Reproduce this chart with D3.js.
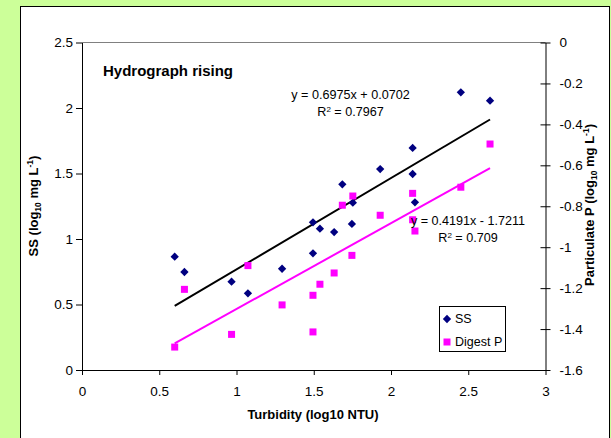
<!DOCTYPE html>
<html>
<head>
<meta charset="utf-8">
<script src="https://cdn.jsdelivr.net/npm/d3@7"></script>
<style>
  body { margin: 0; background: #ccff99; }
  svg { display: block; font-family: "Liberation Sans", Arial, sans-serif; }
</style>
</head>
<body>
<script>
// turbidity (log10 NTU), shared by both series
const turbidity = [0.600, 0.663, 0.968, 1.074, 1.295, 1.495, 1.540, 1.495, 1.632, 1.747, 1.753, 1.685, 1.930, 2.140, 2.140, 2.155, 2.452, 2.641];
// SS (log10 mg/L), left axis
const ssValues = [0.865, 0.748, 0.674, 0.585, 0.773, 1.127, 1.079, 0.891, 1.053, 1.115, 1.277, 1.417, 1.534, 1.695, 1.496, 1.280, 2.120, 2.056];
// Digest P (log10 mg/L), right axis
const digestP = [-1.488, -1.206, -1.426, -1.090, -1.282, -1.414, -1.181, -1.235, -1.126, -1.040, -0.750, -0.795, -0.844, -0.737, -0.866, -0.921, -0.707, -0.496];
// trend lines: slope, intercept
const ssFit = [0.6975, 0.0702];
const pFit = [0.4191, -1.7211];
const xTicks = [0, 0.5, 1, 1.5, 2, 2.5, 3];
const leftTicks = [0, 0.5, 1, 1.5, 2, 2.5];
const rightTicks = [0, -0.2, -0.4, -0.6, -0.8, -1, -1.2, -1.4, -1.6];

const width = 611, height = 438;
const svg = d3.select("body").append("svg")
  .attr("width", width)
  .attr("height", height);

// white chart box
svg.append("rect")
  .attr("x", 20.5).attr("y", 6.5)
  .attr("width", 589).attr("height", 440)
  .attr("fill", "#fff")
  .attr("stroke", "#000");

const x = d3.scaleLinear().domain([0, 3]).range([82, 545.5]);
const yL = d3.scaleLinear().domain([0, 2.5]).range([370, 42.5]);
const yR = d3.scaleLinear().domain([-1.6, 0]).range([370, 42.5]);

// top border of plot area
svg.append("line")
  .attr("x1", x(0)).attr("x2", x(3))
  .attr("y1", yL(2.5)).attr("y2", yL(2.5))
  .attr("stroke", "#808080");

const fmt = d => String(d);

const xAxis = svg.append("g")
  .attr("transform", `translate(0,${yL(0)})`)
  .call(d3.axisBottom(x).tickValues(xTicks).tickFormat(fmt).tickSize(5).tickSizeOuter(0));
xAxis.selectAll("text").attr("y", 16).attr("dy", "0.71em");

const leftAxis = svg.append("g")
  .attr("transform", `translate(${x(0)},0)`)
  .call(d3.axisLeft(yL).tickValues(leftTicks).tickFormat(fmt).tickSize(6).tickSizeOuter(0));
leftAxis.selectAll("text").attr("x", -9);

const rightAxis = svg.append("g")
  .attr("transform", `translate(${x(3)},0)`)
  .call(d3.axisRight(yR).tickValues(rightTicks).tickFormat(fmt).tickSize(5).tickSizeOuter(0));
rightAxis.selectAll(".tick line").attr("x1", -5);
rightAxis.selectAll("text").attr("x", 14);

svg.selectAll(".domain").attr("stroke", "#000");
svg.selectAll(".tick line").attr("stroke", "#000");
svg.selectAll(".tick text")
  .attr("fill", "#000")
  .style("font-size", "13.5px")
  .style("font-family", "'Liberation Sans', Arial, sans-serif");

// axis titles
svg.append("text")
  .attr("x", 313).attr("y", 419)
  .attr("text-anchor", "middle")
  .style("font-size", "13px").style("font-weight", "bold")
  .text("Turbidity (log10 NTU)");

const leftTitle = svg.append("text")
  .attr("transform", "translate(38,206) rotate(-90)")
  .attr("text-anchor", "middle")
  .style("font-size", "13px").style("font-weight", "bold");
leftTitle.append("tspan").text("SS (log");
leftTitle.append("tspan").attr("dy", 3).style("font-size", "8.5px").text("10");
leftTitle.append("tspan").attr("dy", -3).text(" mg L");
leftTitle.append("tspan").attr("dy", -5).style("font-size", "8.5px").text("-1");
leftTitle.append("tspan").attr("dy", 5).text(")");

const rightTitle = svg.append("text")
  .attr("transform", "translate(594,205) rotate(-90)")
  .attr("text-anchor", "middle")
  .style("font-size", "13px").style("font-weight", "bold");
rightTitle.append("tspan").text("Particulate P (log");
rightTitle.append("tspan").attr("dy", 3).style("font-size", "8.5px").text("10");
rightTitle.append("tspan").attr("dy", -3).text(" mg L");
rightTitle.append("tspan").attr("dy", -5).style("font-size", "8.5px").text("-1");
rightTitle.append("tspan").attr("dy", 5).text(")");

// trend lines over the data range
const xExt = d3.extent(turbidity);
const line = d3.line();
svg.append("path")
  .attr("d", line(xExt.map(t => [x(t), yL(ssFit[0] * t + ssFit[1])])))
  .attr("stroke", "#000").attr("stroke-width", 2).attr("fill", "none");
svg.append("path")
  .attr("d", line(xExt.map(t => [x(t), yR(pFit[0] * t + pFit[1])])))
  .attr("stroke", "#ff00ff").attr("stroke-width", 2).attr("fill", "none");

// markers
const diamond = d3.symbol().type(d3.symbolDiamond2).size(44);
svg.append("g").selectAll("path")
  .data(turbidity)
  .join("path")
  .attr("d", diamond)
  .attr("transform", (t, i) => `translate(${x(t)},${yL(ssValues[i])})`)
  .attr("fill", "#000080");

svg.append("g").selectAll("rect")
  .data(turbidity)
  .join("rect")
  .attr("x", t => x(t) - 3.5)
  .attr("y", (t, i) => yR(digestP[i]) - 3.5)
  .attr("width", 7).attr("height", 7)
  .attr("fill", "#ff00ff");

// labels
svg.append("text")
  .attr("x", 103).attr("y", 76)
  .style("font-size", "15px").style("font-weight", "bold")
  .text("Hydrograph rising");

function eq(xc, y1, l1, l2) {
  svg.append("text")
    .attr("x", xc).attr("y", y1)
    .attr("text-anchor", "middle")
    .style("font-size", "12.6px")
    .text(l1);
  const r = svg.append("text")
    .attr("x", xc).attr("y", y1 + 17)
    .attr("text-anchor", "middle")
    .style("font-size", "12.6px");
  r.append("tspan").text("R");
  r.append("tspan").attr("dy", -4).style("font-size", "8px").text("2");
  r.append("tspan").attr("dy", 4).text(" = " + l2);
}
eq(350.5, 99, "y = 0.6975x + 0.0702", "0.7967");
eq(468, 225, "y = 0.4191x - 1.7211", "0.709");

// legend
const lg = svg.append("g").attr("transform", "translate(439,306)");
lg.append("rect")
  .attr("x", 0.5).attr("y", 0.5)
  .attr("width", 66).attr("height", 45)
  .attr("fill", "#fff").attr("stroke", "#000");
lg.append("path")
  .attr("d", diamond)
  .attr("transform", "translate(8,13)")
  .attr("fill", "#000080");
lg.append("rect")
  .attr("x", 4.5).attr("y", 32.5).attr("width", 7).attr("height", 7)
  .attr("fill", "#ff00ff");
lg.append("text").attr("x", 16).attr("y", 17).style("font-size", "12.5px").text("SS");
lg.append("text").attr("x", 16).attr("y", 40).style("font-size", "12.5px").text("Digest P");
</script>
</body>
</html>
